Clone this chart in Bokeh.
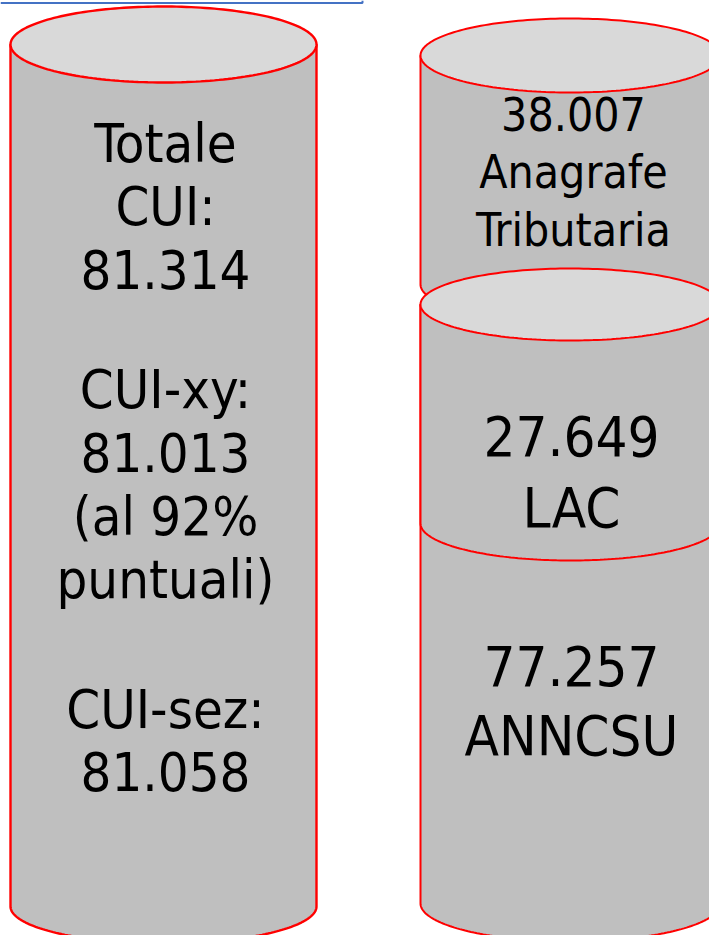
import numpy as np
from bokeh.plotting import figure
from bokeh.models import Range1d
from bokeh.core.properties import value
from bokeh.embed import file_html
from bokeh.resources import INLINE

# ---- data (text content) ----
total_cui = "81.314"
cui_xy = "81.013"
pct_puntuali = "92%"
cui_sez = "81.058"
source_names = ["Anagrafe\nTributaria", "LAC", "ANNCSU"]
source_counts = ["38.007", "27.649", "77.257"]

left_lines = ["Totale", "CUI:", total_cui, "CUI-xy:", cui_xy, "(al " + pct_puntuali,
              "puntuali)", "CUI-sez:", cui_sez]

# ---- layout (pixel-like coordinates, y downwards) ----
FONT = value("DejaVu Sans Condensed")
BODY = "#BFBFBF"
TOP = "#D9D9D9"
RED = "#FF0000"

p = figure(width=709, height=935, x_range=Range1d(0, 709), y_range=Range1d(935, 0),
           x_axis_type=None, y_axis_type=None, toolbar_location=None,
           output_backend="svg", min_border=0)
p.grid.visible = False
p.outline_line_color = None
p.background_fill_color = "white"
p.border_fill_color = "white"


def body(cx, rx, ytop, ybot, ry):
    th = np.linspace(np.pi, 0, 120)
    xs = [cx - rx] + list(cx + rx * np.cos(th)) + [cx + rx]
    ys = [ytop] + list(ybot + ry * np.sin(th)) + [ytop]
    return xs, ys


def top(cx, rx, yc, ry):
    t = np.linspace(0, 2 * np.pi, 200)
    return list(cx + rx * np.cos(t)), list(yc + ry * np.sin(t))


def cylinder(cx, rx, ytop, ybot, ry_top, ry_bot, lw):
    bx, by = body(cx, rx, ytop, ybot, ry_bot)
    p.patch(bx, by, fill_color=BODY, line_color=RED, line_width=lw)
    tx, ty = top(cx, rx, ytop, ry_top)
    p.patch(tx, ty, fill_color=TOP, line_color=RED, line_width=lw)


def labels(xc, baselines, lines, fs):
    shift = 0.35 * fs
    p.text(x=[xc] * len(lines), y=[b - shift for b in baselines], text=lines,
           text_align="center", text_baseline="alphabetic", text_font=FONT,
           text_font_size=f"{fs}px", text_color="black")


# box edge at the very top
p.line([0, 362, 362], [2.5, 2.5, 0], line_color="#4472C4", line_width=2)

# left cylinder
cylinder(163, 153, 44, 906, 38, 37, 2.4)

# right stack: Anagrafe (behind), ANNCSU, LAC (front)
cylinder(570, 150, 55, 284, 37, 37, 2)
bx, by = body(570, 150, 304, 903, 38)
p.patch(bx, by, fill_color=BODY, line_color=RED, line_width=2)
cylinder(570, 150, 304, 523, 36, 37, 2)

# left texts
labels(165, [162, 225, 288, 408, 471, 535, 598, 728, 790], left_lines, 54)

# right texts
ana_lines = [source_counts[0]] + source_names[0].split("\n")
labels(573, [130, 188, 246], ana_lines, 46)

big_lines = [source_counts[1], source_names[1], source_counts[2], source_names[2]]
labels(571, [455, 527, 685, 755], big_lines, 56)

open("out.html", "w").write(file_html(p, INLINE))
